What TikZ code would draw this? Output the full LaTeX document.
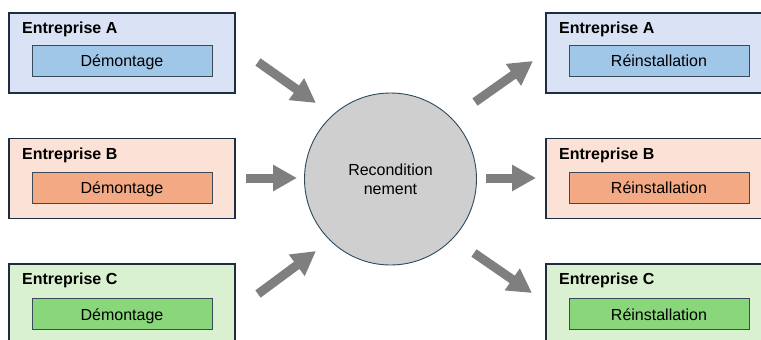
\documentclass[tikz,border=0pt]{standalone}
\usepackage{fontspec}
\setmainfont{Liberation Sans}
\usetikzlibrary{arrows.meta}

\definecolor{blueOut}{HTML}{DAE3F5}
\definecolor{blueIn}{HTML}{A0C6E8}
\definecolor{orangeOut}{HTML}{FCE1D6}
\definecolor{orangeIn}{HTML}{F2A984}
\definecolor{greenOut}{HTML}{D9F1D0}
\definecolor{greenIn}{HTML}{8AD77B}
\definecolor{frameCol}{HTML}{1E2E40}
\definecolor{innerFrame}{HTML}{3A4A58}
\definecolor{arrowGray}{HTML}{7F7F7F}
\definecolor{hubFill}{HTML}{CFCFCF}
\definecolor{hubLine}{HTML}{2E4A5C}

\tikzset{
  company/.style={draw=frameCol, line width=1.1pt, minimum width=226pt,
    minimum height=80pt, inner sep=0pt},
  title/.style={anchor=base west, inner sep=0pt,
    font=\fontsize{16}{19}\selectfont\bfseries},
  task/.style={draw=innerFrame, line width=0.9pt, minimum width=180pt,
    minimum height=31pt, inner sep=0pt, text height=13pt, text depth=1pt,
    font=\fontsize{16}{19}\selectfont},
  flow/.style={arrowGray, line width=9pt,
    -{Triangle[length=24pt,width=25pt]}},
}

\begin{document}
\begin{tikzpicture}[x=1pt,y=-1pt]
\useasboundingbox (0,0) rectangle (761,340);
\clip (0,0) rectangle (761,340);

% left column: dismantling
\node[company, fill=blueOut]   (ea) at (122,53)  {};
\node[company, fill=orangeOut] (eb) at (122,178.5) {};
\node[company, fill=greenOut]  (ec) at (122,304) {};
\node[title] (tea) at (22,33.5)  {Entreprise A};
\node[title] (teb) at (22,159.5) {Entreprise B};
\node[title] (tec) at (22,284.5) {Entreprise C};
\node[task, fill=blueIn]   (da) at (122,60.5)  {Démontage};
\node[task, fill=orangeIn] (db) at (122,187.5) {Démontage};
\node[task, fill=greenIn]  (dc) at (122,314)   {Démontage};

% right column: reinstallation
\node[company, fill=blueOut]   (ra) at (659,53)  {};
\node[company, fill=orangeOut] (rb) at (659,178.5) {};
\node[company, fill=greenOut]  (rc) at (659,304) {};
\node[title] (tra) at (559,33.5)  {Entreprise A};
\node[title] (trb) at (559,159.5) {Entreprise B};
\node[title] (trc) at (559,284.5) {Entreprise C};
\node[task, fill=blueIn]   (ia) at (659,60.5)  {Réinstallation};
\node[task, fill=orangeIn] (ib) at (659,187.5) {Réinstallation};
\node[task, fill=greenIn]  (ic) at (659,314)   {Réinstallation};

% central reconditioning hub
\node[circle, draw=hubLine, line width=0.9pt, fill=hubFill,
      minimum size=172pt, inner sep=0pt, align=center,
      font=\fontsize{16}{19}\selectfont] (hub) at (390.5,179)
      {Recondition\\nement};

% arrow end points
\coordinate (inA0) at (258,62);   \coordinate (inA1) at (316,103);
\coordinate (inB0) at (246,178);  \coordinate (inB1) at (297,178);
\coordinate (inC0) at (258,294);  \coordinate (inC1) at (316,251);
\coordinate (outA0) at (475,102); \coordinate (outA1) at (533,61);
\coordinate (outB0) at (486,178); \coordinate (outB1) at (536,178);
\coordinate (outC0) at (474,253); \coordinate (outC1) at (532,293);

\draw[flow] (inA0) -- (inA1);
\draw[flow] (inB0) -- (inB1);
\draw[flow] (inC0) -- (inC1);
\draw[flow] (outA0) -- (outA1);
\draw[flow] (outB0) -- (outB1);
\draw[flow] (outC0) -- (outC1);
\end{tikzpicture}
\end{document}
